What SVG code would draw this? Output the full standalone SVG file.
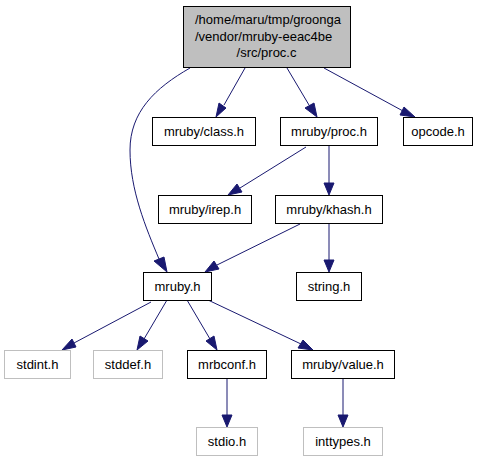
<svg xmlns="http://www.w3.org/2000/svg" width="483" height="461" viewBox="0 0 483 461">
<style>
.n rect{fill:#fff;stroke:#000;stroke-width:1}
.g rect{fill:#fff;stroke:#bfbfbf;stroke-width:1}
text{font-family:"Liberation Sans",Arial,sans-serif;font-size:13px;fill:#000}
.c{text-anchor:middle}
#edges path{fill:none;stroke:#191970;stroke-width:1}
#edges polygon{fill:#191970;stroke:#191970;stroke-width:1}
</style>
<rect width="483" height="461" fill="#fff"/>
<g id="edges">
<path d="M190,68 C155,88 130,112 130,150 C130,190 146,228 159,259"/>
<polygon points="154,261 167,272 164,257"/>
<path d="M245,68 L224,105"/>
<polygon points="219,103 216,117 226,108"/>
<path d="M287,68 L309,105"/>
<polygon points="305,108 317,117 314,103"/>
<path d="M324,68 L403,111"/>
<polygon points="400,115 415,117 404,107"/>
<path d="M306,147 L240,188"/>
<polygon points="237,184 228,195 242,192"/>
<path d="M329,146 L329,183"/>
<polygon points="324,183 329,195 334,183"/>
<path d="M300,224 L217,265"/>
<polygon points="214,261 205,272 219,269"/>
<path d="M329,223 L329,260"/>
<polygon points="324,260 329,272 334,260"/>
<path d="M151,302 L74,343"/>
<polygon points="72,339 62,350 76,347"/>
<path d="M167,300 L144,339"/>
<polygon points="140,336 137,350 148,341"/>
<path d="M187,300 L210,339"/>
<polygon points="206,341 217,350 214,336"/>
<path d="M208,300 L301,344"/>
<polygon points="298,348 313,350 303,340"/>
<path d="M227,378 L227,415"/>
<polygon points="222,415 227,427 232,415"/>
<path d="M343,378 L343,415"/>
<polygon points="338,415 343,427 348,415"/>
</g>
<g id="root" class="n">
<rect x="183.5" y="6.5" width="167" height="61" style="fill:#bfbfbf"/>
<text x="195" y="24">/home/maru/tmp/groonga</text>
<text x="195" y="40.5">/vendor/mruby-eeac4be</text>
<text x="266.5" y="57" class="c">/src/proc.c</text>
</g>
<g id="class" class="n"><rect x="152.5" y="117.5" width="103" height="28"/><text x="204" y="136" class="c">mruby/class.h</text></g>
<g id="proc" class="n"><rect x="280.5" y="117.5" width="97" height="28"/><text x="329" y="136" class="c">mruby/proc.h</text></g>
<g id="opcode" class="n"><rect x="403.5" y="117.5" width="69" height="28"/><text x="438" y="136" class="c">opcode.h</text></g>
<g id="irep" class="n"><rect x="158.5" y="195.5" width="93" height="28"/><text x="205" y="214" class="c">mruby/irep.h</text></g>
<g id="khash" class="n"><rect x="275.5" y="195.5" width="107" height="28"/><text x="329" y="214" class="c">mruby/khash.h</text></g>
<g id="mruby" class="n"><rect x="143.5" y="272.5" width="68" height="28"/><text x="177.5" y="291" class="c">mruby.h</text></g>
<g id="string" class="n"><rect x="296.5" y="272.5" width="65" height="28"/><text x="329" y="291" class="c">string.h</text></g>
<g id="stdint" class="g"><rect x="4.5" y="350.5" width="66" height="28"/><text x="37.5" y="369" class="c">stdint.h</text></g>
<g id="stddef" class="g"><rect x="93.5" y="350.5" width="69" height="28"/><text x="128" y="369" class="c">stddef.h</text></g>
<g id="mrbconf" class="n"><rect x="187.5" y="350.5" width="79" height="28"/><text x="227" y="369" class="c">mrbconf.h</text></g>
<g id="value" class="n"><rect x="291.5" y="350.5" width="103" height="28"/><text x="343" y="369" class="c">mruby/value.h</text></g>
<g id="stdio" class="g"><rect x="196.5" y="427.5" width="61" height="28"/><text x="227" y="446" class="c">stdio.h</text></g>
<g id="inttypes" class="g"><rect x="303.5" y="427.5" width="79" height="28"/><text x="343" y="446" class="c">inttypes.h</text></g>
</svg>
